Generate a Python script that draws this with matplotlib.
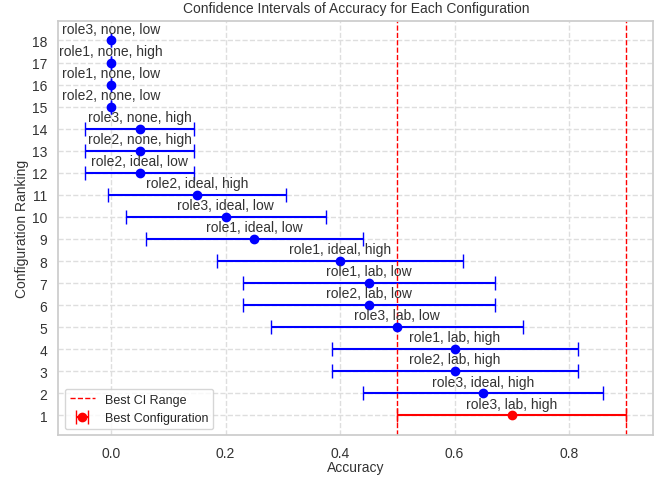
import matplotlib
matplotlib.use("Agg")
import matplotlib.pyplot as plt
import seaborn as sns
import numpy as np

# configurations ranked 1 (best) .. 18
configs = [
    "role3, lab, high", "role3, ideal, high", "role2, lab, high", "role1, lab, high",
    "role3, lab, low", "role2, lab, low", "role1, lab, low", "role1, ideal, high",
    "role1, ideal, low", "role3, ideal, low", "role2, ideal, high", "role2, ideal, low",
    "role2, none, high", "role3, none, high", "role2, none, low", "role1, none, low",
    "role1, none, high", "role3, none, low",
]
accuracy = [0.70, 0.65, 0.60, 0.60, 0.50, 0.45, 0.45, 0.40, 0.25, 0.20, 0.15,
            0.05, 0.05, 0.05, 0.0, 0.0, 0.0, 0.0]
ci_low = [0.50, 0.44, 0.385, 0.385, 0.28, 0.23, 0.23, 0.185, 0.06, 0.025, -0.005,
          -0.045, -0.045, -0.045, 0.0, 0.0, 0.0, 0.0]
ci_high = [0.90, 0.86, 0.815, 0.815, 0.72, 0.67, 0.67, 0.615, 0.44, 0.375, 0.305,
           0.145, 0.145, 0.145, 0.0, 0.0, 0.0, 0.0]
ranks = list(range(1, len(configs) + 1))

sns.set_theme(style="whitegrid")
plt.rcParams['font.family'] = ['Liberation Sans', 'DejaVu Sans']
plt.rcParams['grid.linestyle'] = '--'
plt.rcParams['grid.color'] = '#dedede'
plt.rcParams['axes.edgecolor'] = '#cccccc'

fig, ax = plt.subplots(figsize=(6.72, 4.81), dpi=100)

acc = np.array(accuracy)
lo = acc - np.array(ci_low)
hi = np.array(ci_high) - acc

for i, r in enumerate(ranks):
    color = 'red' if r == 1 else 'blue'
    label = 'Best Configuration' if r == 1 else None
    ax.errorbar(acc[i], r, xerr=[[lo[i]], [hi[i]]], fmt='o', color=color,
                ecolor=color, capsize=5, markersize=6, elinewidth=1.5,
                label=label)
    ax.text(acc[i], r + 0.22, configs[i], ha='center', va='bottom',
            fontsize=10, color='#333333')

ax.axvline(ci_low[0], color='red', linestyle='--', linewidth=1, label='Best CI Range')
ax.axvline(ci_high[0], color='red', linestyle='--', linewidth=1)

ax.set_yticks(ranks)
ax.set_ylim(0.1, 18.9)
ax.tick_params(labelsize=10, colors='#333333', pad=2)
ax.set_xlabel('Accuracy', fontsize=10, color='#333333', labelpad=0)
ax.set_ylabel('Configuration Ranking', fontsize=10, color='#333333', labelpad=2)
ax.set_title('Confidence Intervals of Accuracy for Each Configuration',
             fontsize=10, color='#333333', pad=6)
ax.legend(loc='lower left', fontsize=9)

fig.subplots_adjust(left=0.087, right=0.972, top=0.955, bottom=0.093)
fig.savefig('out.png', dpi=100)
